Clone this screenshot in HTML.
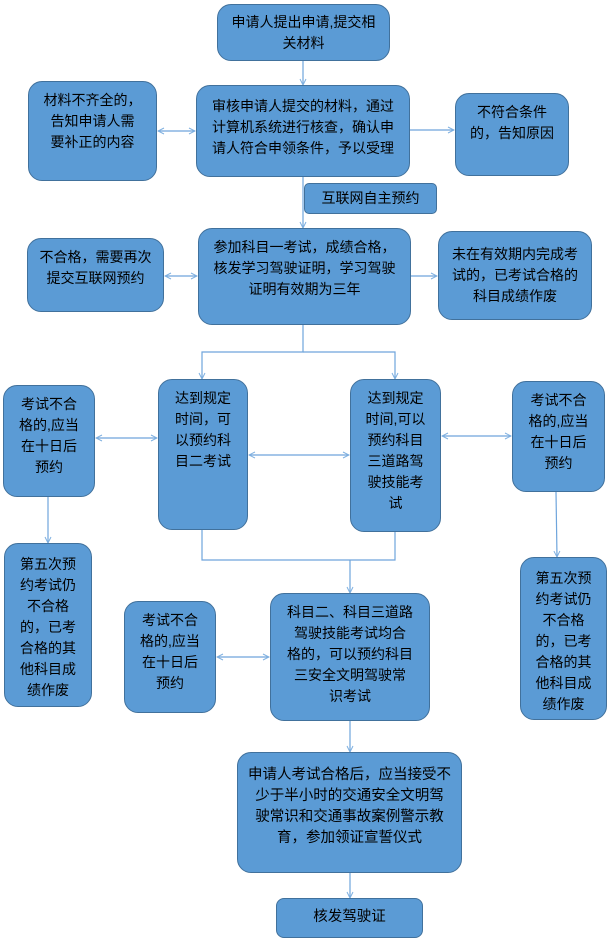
<!DOCTYPE html>
<html><head><meta charset="utf-8"><style>
body{margin:0;width:610px;height:944px;background:#fff;position:relative;overflow:hidden;font-family:"Liberation Sans","Noto Sans CJK SC",sans-serif;}
.b{position:absolute;box-sizing:border-box;background:#5b9bd5;border:1.5px solid #41719c;border-radius:14px;color:#000;font-size:14px;line-height:21px;text-align:center;white-space:nowrap;}
svg{position:absolute;left:0;top:0}
</style></head><body>
<svg width="610" height="944">
<defs>
<marker id="a" markerWidth="8" markerHeight="8" refX="7" refY="4" orient="auto-start-reverse" markerUnits="userSpaceOnUse"><path d="M1,1 L7,4 L1,7" fill="none" stroke="#7fb0e0" stroke-width="1"/></marker>
</defs>
<g stroke="#6fa5dc" stroke-width="1.2" fill="none">
<line x1="303" y1="61" x2="303" y2="85" marker-end="url(#a)"/>
<line x1="158" y1="131" x2="195" y2="131" marker-start="url(#a)" marker-end="url(#a)"/>
<line x1="410" y1="130" x2="454" y2="130" marker-end="url(#a)"/>
<line x1="303" y1="177" x2="303" y2="228" marker-end="url(#a)"/>
<line x1="165" y1="276" x2="197" y2="276" marker-start="url(#a)" marker-end="url(#a)"/>
<line x1="411" y1="276" x2="437" y2="276" marker-end="url(#a)"/>
<polyline points="303,325 303,352 202,352 202,379" marker-end="url(#a)"/>
<polyline points="303,352 395,352 395,379" marker-end="url(#a)"/>
<line x1="96" y1="438" x2="157" y2="438" marker-start="url(#a)" marker-end="url(#a)"/>
<line x1="249" y1="455" x2="349" y2="455" marker-start="url(#a)" marker-end="url(#a)"/>
<line x1="442" y1="436" x2="511" y2="436" marker-start="url(#a)" marker-end="url(#a)"/>
<line x1="48" y1="497" x2="48" y2="543" marker-end="url(#a)"/>
<line x1="556" y1="492" x2="557" y2="557" marker-end="url(#a)"/>
<polyline points="202,530 202,560 395,560 395,532"/>
<line x1="350" y1="560" x2="350" y2="593" marker-end="url(#a)"/>
<line x1="217" y1="657" x2="269" y2="657" marker-start="url(#a)" marker-end="url(#a)"/>
<line x1="350" y1="721" x2="350" y2="752" marker-end="url(#a)"/>
<line x1="350" y1="873" x2="350" y2="898" marker-end="url(#a)"/>
</g>
</svg>
<div class="b" style="left:217px;top:4px;width:173px;height:57px;padding-top:7px">申请人提出申请,提交相<br>关材料</div>
<div class="b" style="left:196px;top:85px;width:214px;height:92px;padding-top:10px">审核申请人提交的材料，通过<br>计算机系统进行核查，确认申<br>请人符合申领条件，予以受理</div>
<div class="b" style="left:28px;top:81px;width:129px;height:100px;padding-top:8px">材料不齐全的，<br>告知申请人需<br>要补正的内容</div>
<div class="b" style="left:455px;top:93px;width:114px;height:83px;padding-top:8px">不符合条件<br>的，告知原因</div>
<div class="b" style="left:304px;top:183px;width:133px;height:31px;padding-top:4px;border-radius:5px">互联网自主预约</div>
<div class="b" style="left:198px;top:228px;width:213px;height:97px;padding-top:8px">参加科目一考试，成绩合格，<br>核发学习驾驶证明，学习驾驶<br>证明有效期为三年</div>
<div class="b" style="left:27px;top:238px;width:137px;height:74px;padding-top:8px">不合格，需要再次<br>提交互联网预约</div>
<div class="b" style="left:438px;top:231px;width:154px;height:89px;padding-top:12px">未在有效期内完成考<br>试的，已考试合格的<br>科目成绩作废</div>
<div class="b" style="left:3px;top:385px;width:92px;height:112px;padding-top:8px">考试不合<br>格的,应当<br>在十日后<br>预约</div>
<div class="b" style="left:158px;top:379px;width:90px;height:151px;padding-top:8px">达到规定<br>时间，可<br>以预约科<br>目二考试</div>
<div class="b" style="left:350px;top:379px;width:91px;height:153px;padding-top:8px">达到规定<br>时间,可以<br>预约科目<br>三道路驾<br>驶技能考<br>试</div>
<div class="b" style="left:512px;top:381px;width:93px;height:111px;padding-top:8px">考试不合<br>格的,应当<br>在十日后<br>预约</div>
<div class="b" style="left:4px;top:543px;width:88px;height:164px;padding-top:10px">第五次预<br>约考试仍<br>不合格<br>的，已考<br>合格的其<br>他科目成<br>绩作废</div>
<div class="b" style="left:520px;top:557px;width:87px;height:163px;padding-top:10px">第五次预<br>约考试仍<br>不合格<br>的，已考<br>合格的其<br>他科目成<br>绩作废</div>
<div class="b" style="left:124px;top:601px;width:92px;height:112px;padding-top:8px">考试不合<br>格的,应当<br>在十日后<br>预约</div>
<div class="b" style="left:270px;top:593px;width:160px;height:128px;padding-top:8px">科目二、科目三道路<br>驾驶技能考试均合<br>格的，可以预约科目<br>三安全文明驾驶常<br>识考试</div>
<div class="b" style="left:237px;top:752px;width:225px;height:121px;padding-top:12px;font-size:14.5px">申请人考试合格后，应当接受不<br>少于半小时的交通安全文明驾<br>驶常识和交通事故案例警示教<br>育，参加领证宣誓仪式</div>
<div class="b" style="left:276px;top:898px;width:147px;height:40px;padding-top:8px;border-radius:8px;font-size:14.5px">核发驾驶证</div>
</body></html>
